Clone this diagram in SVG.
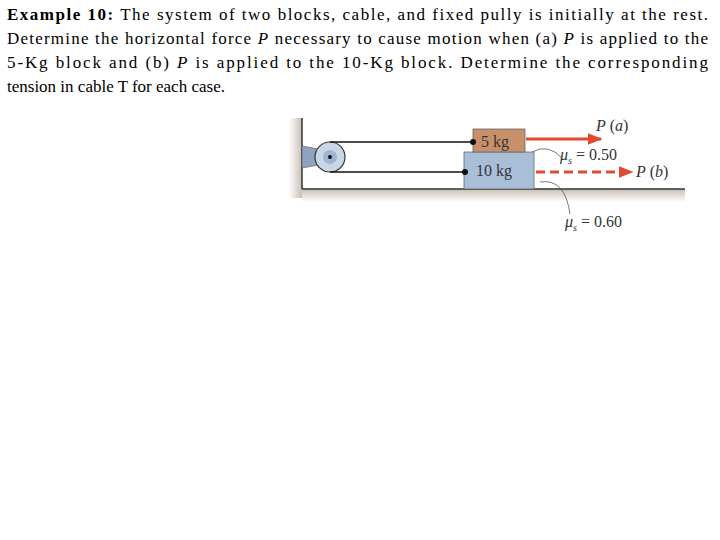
<svg xmlns="http://www.w3.org/2000/svg" width="720" height="540" viewBox="0 0 720 540">
<style>
.t{font-family:"Liberation Serif",serif;font-size:17px;fill:#000}
.f{font-family:"Liberation Serif",serif;font-size:16px;fill:#333}
.cab{stroke:#111;stroke-width:1.5;fill:none}
.ld{stroke:#555;stroke-width:0.8;fill:none}
</style>
<defs>
<marker id="ah" viewBox="0 0 10 10" refX="9" refY="5" markerWidth="5" markerHeight="5" orient="auto"><path d="M0,1 L10,5 L0,9 Z" fill="#e04a30"/></marker>
<linearGradient id="sh" x1="0" y1="0" x2="0" y2="1"><stop offset="0" stop-color="#c9bfb5"/><stop offset="1" stop-color="#fff"/></linearGradient>
<linearGradient id="sw" x1="1" y1="0" x2="0" y2="0"><stop offset="0" stop-color="#c9bfb5"/><stop offset="1" stop-color="#fff"/></linearGradient>
</defs>
<rect width="720" height="540" fill="#fff"/>
<text class="t" x="7" y="20" textLength="701" lengthAdjust="spacing"><tspan font-weight="bold">Example 10:</tspan> The system of two blocks, cable, and fixed pully is initially at the rest.</text>
<text class="t" x="7" y="44" textLength="701" lengthAdjust="spacing">Determine the horizontal force <tspan font-style="italic">P</tspan> necessary to cause motion when (a) <tspan font-style="italic">P</tspan>  is applied to the</text>
<text class="t" x="7" y="68" textLength="701" lengthAdjust="spacing">5-Kg block and (b) <tspan font-style="italic">P</tspan> is applied to the 10-Kg block. Determine the corresponding</text>
<text class="t" x="7" y="92">tension in cable T for each case.</text>
<g id="ground">
<rect x="289" y="118" width="13" height="80" fill="url(#sw)"/>
<rect x="302" y="189" width="383" height="13" fill="url(#sh)"/>
<line x1="302" y1="118" x2="302" y2="189" stroke="#333" stroke-width="1.5"/>
<line x1="302" y1="189" x2="685" y2="189" stroke="#333" stroke-width="1.5"/>
</g>
<g id="pulley">
<path d="M302,146 L330,151 L330,163 L302,168 Z" fill="#8ea3bf" stroke="#555" stroke-width="0.6"/>
<circle cx="330" cy="157" r="15" fill="#c9d6e6" stroke="#333" stroke-width="1.2"/>
<circle cx="330" cy="157" r="7" fill="#9fb6d2"/>
<circle cx="330" cy="157" r="2" fill="#111"/>
</g>
<g id="connectors">
<path class="cab" d="M330,142 L473,142"/>
<path class="cab" d="M330,172 L465,172"/>
<line x1="526" y1="139" x2="601" y2="139" stroke="#e04a30" stroke-width="3" marker-end="url(#ah)"/>
<line x1="536" y1="172" x2="632" y2="172" stroke="#e04a30" stroke-width="3" stroke-dasharray="9,5" marker-end="url(#ah)"/>
<path class="ld" d="M532,152 Q548,143 562,158"/>
<path class="ld" d="M540,182 Q565,178 570,214"/>
</g>
<g id="block10">
<rect x="464" y="152" width="70" height="37" fill="#a9bfd8" stroke="#666" stroke-width="0.8"/>
<text class="f" x="476" y="176" font-size="17" fill="#222">10 kg</text>
<circle cx="465" cy="172" r="3" fill="#111"/>
</g>
<g id="block5">
<rect x="473" y="129" width="52" height="23" fill="#c8906a" stroke="#666" stroke-width="0.8"/>
<text class="f" x="481" y="147" font-size="17" fill="#222">5 kg</text>
<circle cx="473" cy="142" r="3" fill="#111"/>
</g>
<g id="labels">
<text class="f" x="596" y="131"><tspan font-style="italic">P</tspan> (<tspan font-style="italic">a</tspan>)</text>
<text class="f" x="636" y="177"><tspan font-style="italic">P</tspan> (<tspan font-style="italic">b</tspan>)</text>
<text class="f" x="560" y="160"><tspan font-style="italic">μ</tspan><tspan font-size="10" dy="4" font-style="italic">s</tspan><tspan dy="-4"> = 0.50</tspan></text>
<text class="f" x="565" y="227"><tspan font-style="italic">μ</tspan><tspan font-size="10" dy="4" font-style="italic">s</tspan><tspan dy="-4"> = 0.60</tspan></text>
</g>
</svg>
